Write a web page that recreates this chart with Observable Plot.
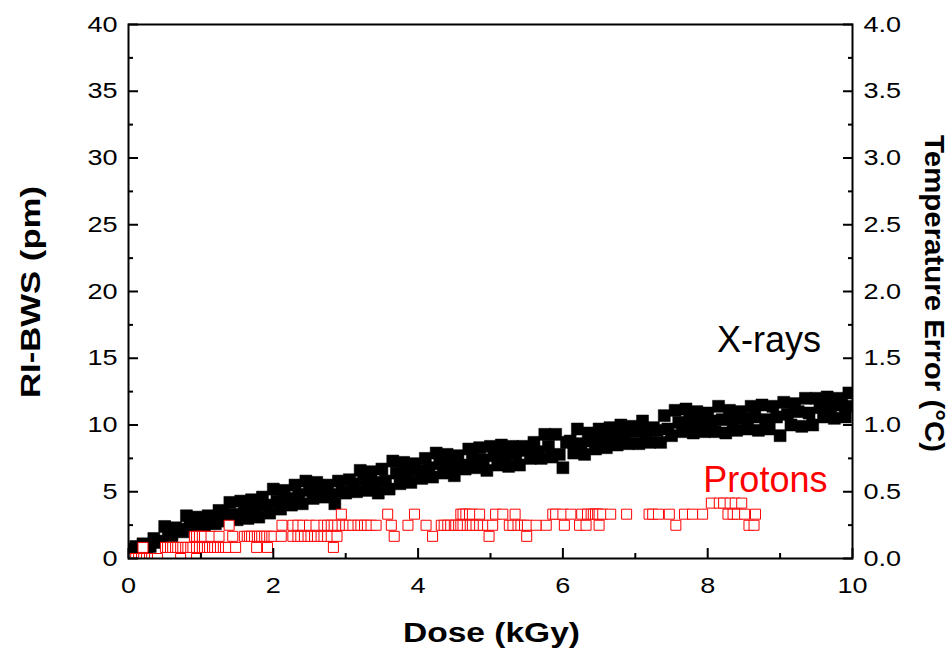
<!DOCTYPE html>
<html>
<head>
<meta charset="utf-8">
<script src="https://cdn.jsdelivr.net/npm/d3@7"></script>
<script src="https://cdn.jsdelivr.net/npm/@observablehq/plot@0.6"></script>
<style>
  html, body { margin: 0; padding: 0; background: #fff; }
</style>
</head>
<body>
<div id="chart"></div>
<script>
// ---------- Data ----------
// X-rays: RI-BWS (pm) vs dose (kGy)
const xrayDose = [
0,0.05,0.1,0.15,0.2,0.25,0.3,0.35,0.4,0.45,
0.5,0.55,0.6,0.65,0.7,0.75,0.8,0.85,0.9,0.95,
1,1.05,1.1,1.15,1.2,1.25,1.3,1.35,1.4,1.45,
1.5,1.55,1.6,1.65,1.7,1.75,1.8,1.85,1.9,1.95,
2,2.05,2.1,2.15,2.2,2.25,2.3,2.35,2.4,2.45,
2.5,2.55,2.6,2.65,2.7,2.75,2.8,2.85,2.9,2.95,
3,3.05,3.1,3.15,3.2,3.25,3.3,3.35,3.4,3.45,
3.5,3.55,3.6,3.65,3.7,3.75,3.8,3.85,3.9,3.95,
4,4.05,4.1,4.15,4.2,4.25,4.3,4.35,4.4,4.45,
4.5,4.55,4.6,4.65,4.7,4.75,4.8,4.85,4.9,4.95,
5,5.05,5.1,5.15,5.2,5.25,5.3,5.35,5.4,5.45,
5.5,5.55,5.6,5.65,5.7,5.75,5.8,5.85,5.9,5.95,
6,6.05,6.1,6.15,6.2,6.25,6.3,6.35,6.4,6.45,
6.5,6.55,6.6,6.65,6.7,6.75,6.8,6.85,6.9,6.95,
7,7.05,7.1,7.15,7.2,7.25,7.3,7.35,7.4,7.45,
7.5,7.55,7.6,7.65,7.7,7.75,7.8,7.85,7.9,7.95,
8,8.05,8.1,8.15,8.2,8.25,8.3,8.35,8.4,8.45,
8.5,8.55,8.6,8.65,8.7,8.75,8.8,8.85,8.9,8.95,
9,9.05,9.1,9.15,9.2,9.25,9.3,9.35,9.4,9.45,
9.5,9.55,9.6,9.65,9.7,9.75,9.8,9.85,9.9,9.95,
10
];
const xrayValue = [
0.3,0.7,0.9,0.6,1.1,0.8,0.9,1.5,1.3,1.2,
2.4,2.0,1.7,2.3,2.2,2.0,3.2,2.8,2.4,3.1,
2.8,2.5,3.2,3.1,2.6,3.6,3.4,2.8,4.2,3.3,
2.9,4.3,3.7,3.0,4.4,3.8,3.1,4.6,4.0,3.4,
5.2,4.3,3.7,5.1,4.5,4.0,5.5,4.8,4.1,5.8,
5.1,4.5,5.7,5.1,4.6,5.5,4.8,4.1,5.8,5.0,
4.9,5.9,5.6,5.0,6.6,5.9,5.1,6.5,5.7,4.9,
6.7,5.8,5.2,7.3,6.4,5.6,7.2,6.4,5.7,7.1,
6.6,6.0,7.5,6.8,6.1,7.9,7.1,6.4,7.8,7.0,
6.2,7.7,7.0,6.7,8.2,7.5,6.8,8.3,7.4,6.6,
8.4,7.7,7.0,8.5,7.6,6.9,8.4,7.8,7.0,8.4,
8.1,7.5,8.7,8.0,7.5,9.3,8.4,7.6,9.3,7.8,
6.8,8.7,8.8,7.9,9.7,8.6,7.8,9.4,8.8,8.2,
9.7,9.0,8.3,9.8,9.1,8.5,10.0,9.2,8.6,9.9,
9.5,8.6,10.3,9.4,8.7,9.8,9.6,8.7,10.7,9.7,
9.2,11.1,10.2,9.5,11.2,10.3,9.4,11.0,10.2,9.5,
10.9,10.3,9.5,11.4,10.4,9.4,11.1,10.3,9.6,11.0,
10.5,9.7,11.4,10.6,9.6,11.5,10.4,9.7,11.4,10.6,
9.2,11.7,10.8,10.0,11.6,11.0,9.9,12.0,10.9,10.0,
12.0,11.3,10.6,12.1,11.3,10.5,12.0,11.5,10.6,12.4,
11.4
];

// Protons: readings are quantised; doses grouped by RI-BWS level (pm)
const protonLevels = [0, 0.83, 1.66, 2.49, 3.32, 4.15];
const protonDoseLevel0 = [0.07,0.10,0.14,0.18,0.21,0.25,0.29,0.32,0.36,0.40,0.72,0.94];
const protonDoseLevel1 = [0.20,0.51,0.54,0.58,0.61,0.65,0.68,0.72,0.75,0.79,0.82,0.86,0.89,0.94,0.98,1.02,1.05,1.09,1.12,1.16,1.19,1.23,1.27,1.31,1.34,1.38,1.48,1.77,1.92,2.83];
const protonDoseLevel2 = [0.91,0.94,0.98,1.02,1.05,1.14,1.25,1.44,1.60,1.64,1.67,1.70,1.74,1.78,1.81,1.84,1.88,1.91,1.95,1.98,2.01,2.11,2.27,2.34,2.38,2.43,2.48,2.52,2.57,2.61,2.66,2.70,2.75,2.80,2.88,3.67,4.20,4.98,5.50];
const protonDoseLevel3 = [1.39,2.12,2.27,2.34,2.41,2.50,2.59,2.70,2.75,2.80,2.84,2.89,2.95,3.00,3.05,3.10,3.17,3.21,3.26,3.30,3.35,3.42,3.63,3.86,4.11,4.32,4.36,4.41,4.45,4.50,4.52,4.56,4.59,4.62,4.68,4.72,4.75,4.80,4.85,4.90,4.96,5.03,5.26,5.31,5.38,5.42,5.47,5.51,5.63,5.77,6.02,6.23,6.32,6.50,7.56,8.57,8.64];
const protonDoseLevel4 = [2.94,3.58,3.95,4.59,4.62,4.66,4.71,4.75,4.85,5.07,5.17,5.34,5.86,5.90,6.00,6.11,6.26,6.34,6.39,6.42,6.45,6.48,6.50,6.55,6.66,6.88,7.19,7.24,7.32,7.47,7.68,7.79,7.93,8.28,8.35,8.41,8.51,8.66];
const protonDoseLevel5 = [8.05,8.16,8.22,8.31,8.38,8.47];

// Axis ticks
const xMajorTicks = [0, 2, 4, 6, 8, 10];
const xMinorTicks = [1, 3, 5, 7, 9];
const yMajorTicks = [0, 5, 10, 15, 20, 25, 30, 35, 40];
const yMinorTicks = [2.5, 7.5, 12.5, 17.5, 22.5, 27.5, 32.5, 37.5];

// Series labels
const seriesLabelText = ["X-rays", "Protons"];
const seriesLabelDose = [8.13, 7.94];
const seriesLabelValue = [15.45, 4.97];
const seriesLabelColor = ["#000000", "#ff0000"];

// ---------- Build tables ----------
const xray = xrayDose.map((d, i) => ({dose: d, value: xrayValue[i]}));
const protonGroups = [protonDoseLevel0, protonDoseLevel1, protonDoseLevel2, protonDoseLevel3, protonDoseLevel4, protonDoseLevel5];
const protons = protonGroups
  .flatMap((g, k) => g.map(d => ({dose: d, value: protonLevels[k]})))
  .sort((a, b) => a.dose - b.dose);
const labels = seriesLabelText.map((t, i) => ({text: t, dose: seriesLabelDose[i], value: seriesLabelValue[i], color: seriesLabelColor[i]}));

const blank = () => "";

// square markers with a fixed side (px), independent of Plot's area convention
const squareSymbol = side => ({draw(context) { const h = side / 2; context.rect(-h, -h, side, side); }});

const chart = Plot.plot({
  width: 952,
  height: 650,
  marginLeft: 128,
  marginRight: 100,
  marginTop: 24,
  marginBottom: 92,
  x: {domain: [0, 10]},
  y: {domain: [0, 40]},
  style: {fontFamily: "'Liberation Sans', Arial, sans-serif", fontSize: "22px", color: "black", background: "white"},
  marks: [
    Plot.dot(xray, {x: "dose", y: "value", symbol: squareSymbol(12), fill: "black", stroke: "black", strokeWidth: 0.5, clip: true}),
    Plot.dot(protons, {x: "dose", y: "value", symbol: squareSymbol(10), fill: "white", stroke: "#ff0000", strokeWidth: 1, clip: true}),
    Plot.text(labels, {x: "dose", y: "value", text: "text", fill: "color", textAnchor: "start", lineAnchor: "bottom", fontSize: 36}),
    // inward major / minor ticks
    Plot.axisX({ticks: xMajorTicks, anchor: "bottom", tickSize: 10, dy: -10, strokeWidth: 2, tickFormat: blank, label: null}),
    Plot.axisX({ticks: xMinorTicks, anchor: "bottom", tickSize: 5, dy: -5, strokeWidth: 2, tickFormat: blank, label: null}),
    Plot.axisY({ticks: yMajorTicks, anchor: "left", tickSize: 10, dx: 10, strokeWidth: 2, tickFormat: blank, label: null}),
    Plot.axisY({ticks: yMinorTicks, anchor: "left", tickSize: 5, dx: 5, strokeWidth: 2, tickFormat: blank, label: null}),
    Plot.axisY({ticks: yMajorTicks, anchor: "right", tickSize: 10, dx: -10, strokeWidth: 2, tickFormat: blank, label: null}),
    Plot.axisY({ticks: yMinorTicks, anchor: "right", tickSize: 5, dx: -5, strokeWidth: 2, tickFormat: blank, label: null}),
    // tick labels
    Plot.axisX({ticks: xMajorTicks, anchor: "bottom", tickSize: 0, tickPadding: 19, tickFormat: d => String(d), label: null}),
    Plot.axisY({ticks: yMajorTicks, anchor: "left", tickSize: 0, tickPadding: 11, tickFormat: d => String(d), label: null}),
    Plot.axisY({ticks: yMajorTicks, anchor: "right", tickSize: 0, tickPadding: 11, tickFormat: d => (d / 10).toFixed(1), label: null}),
    Plot.frame({stroke: "black", strokeWidth: 2})
  ]
});

document.getElementById("chart").appendChild(chart);

const svg = d3.select(chart);
// widen the axis tick labels like the original (wide sans glyphs)
svg.selectAll('g[aria-label$="tick label"] text').each(function () {
  const txt = this.textContent;
  if (!txt) return;
  const L = this.getComputedTextLength();
  this.setAttribute("textLength", L * 1.23);
  this.setAttribute("lengthAdjust", "spacingAndGlyphs");
});

const xs = chart.scale("x").range;
const ys = chart.scale("y").range;
const cx = (xs[0] + xs[1]) / 2;
const cy = (ys[0] + ys[1]) / 2;
const titleFont = "'Liberation Sans', Arial, sans-serif";

svg.append("text")
  .attr("x", cx + 1.5).attr("y", 642)
  .attr("text-anchor", "middle")
  .attr("font-family", titleFont).attr("font-weight", "bold").attr("font-size", 27.5)
  .attr("fill", "black")
  .attr("textLength", 177).attr("lengthAdjust", "spacingAndGlyphs")
  .text("Dose (kGy)");

svg.append("text")
  .attr("transform", `translate(40,${cy + 1}) rotate(-90)`)
  .attr("text-anchor", "middle")
  .attr("font-family", titleFont).attr("font-weight", "bold").attr("font-size", 27.5)
  .attr("fill", "black")
  .attr("textLength", 212).attr("lengthAdjust", "spacingAndGlyphs")
  .text("RI-BWS (pm)");

svg.append("text")
  .attr("transform", `translate(925,${cy + 2.5}) rotate(90)`)
  .attr("text-anchor", "middle")
  .attr("font-family", titleFont).attr("font-weight", "bold").attr("font-size", 27.5)
  .attr("fill", "black")
  .attr("textLength", 317).attr("lengthAdjust", "spacingAndGlyphs")
  .text("Temperature Error (°C)");
</script>
</body>
</html>
